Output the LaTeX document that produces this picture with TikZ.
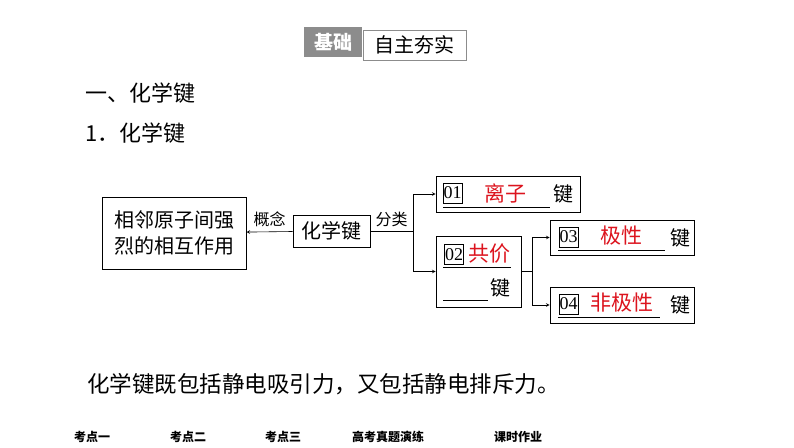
\documentclass[tikz,border=0pt]{standalone}
\usepackage{fontspec}
\setmainfont{Noto Sans CJK SC}
\newfontfamily\numfont{Liberation Serif}
\usepackage{tikz}

\definecolor{keyred}{RGB}{220,20,30}
\definecolor{tabgray}{RGB}{140,140,140}

\tikzset{
  boxed/.style={draw=black, thick, inner sep=0pt},
  numbox/.style={draw=black, inner sep=0pt, minimum width=19pt, minimum height=20pt,
    font=\numfont\fontsize{18}{18}\selectfont},
  answer/.style={text=keyred, font=\fontsize{21}{24}\selectfont},
  plain/.style={font=\fontsize{20}{24}\selectfont},
  label/.style={font=\fontsize{16}{18}\selectfont},
  tab/.style={font=\bfseries\fontsize{12}{14}\selectfont}
}

\begin{document}
\begin{tikzpicture}[x=1pt, y=-1pt, >=stealth]
        \useasboundingbox (0,0) rectangle (794,447);

        % header
        \node[fill=tabgray, minimum width=58pt, minimum height=30pt, inner sep=0pt,
          text=white, font=\bfseries\fontsize{19}{20}\selectfont] (jichu) at (333,42) {基础};
        \node[draw=tabgray, minimum width=103pt, minimum height=30pt, inner sep=0pt,
          font=\fontsize{20}{22}\selectfont] (zizhu) at (414.5,45) {自主夯实};

        \node[anchor=west, inner sep=0pt, font=\fontsize{22}{24}\selectfont] (title) at (85,93) {一、化学键};
        \node[anchor=west, inner sep=0pt, font=\fontsize{22}{24}\selectfont] (sub) at (85,133) {1．化学键};

        % boxes
        \node[boxed, minimum width=144pt, minimum height=72pt, plain, align=center] (def) at (174,233)
          {相邻原子间强\\[2pt]烈的相互作用};
        \node[boxed, minimum width=77pt, minimum height=32pt, plain] (bond) at (331.5,231) {化学键};
        \node[boxed, minimum width=144pt, minimum height=36pt] (ionic) at (508,194) {};
        \node[boxed, minimum width=85pt, minimum height=71pt] (cov) at (478.5,271.5) {};
        \node[boxed, minimum width=144pt, minimum height=35pt] (polar) at (622,237.5) {};
        \node[boxed, minimum width=144pt, minimum height=36pt] (nonpolar) at (622,305) {};

        % box contents
        \node[numbox] (n01) at (452.5,193) {01};
        \node[answer] (a01) at (505,193) {离子};
        \node[plain] (k01) at (563,194) {键};
        \draw (443,207.5) -- (550,207.5);

        \node[numbox] (n02) at (454,254.5) {02};
        \node[answer, inner sep=0pt] (a02) at (489,254) {共价};
        \draw (443,267.5) -- (511,267.5);
        \node[plain] (k02) at (500,288) {键};
        \draw (443,300) -- (488,300);

        \node[numbox] (n03) at (568.5,237) {03};
        \node[answer] (a03) at (621,236) {极性};
        \node[plain] (k03) at (680,238) {键};
        \draw (558,250.5) -- (665,250.5);

        \node[numbox] (n04) at (568.5,304) {04};
        \node[answer] (a04) at (622,303) {非极性};
        \node[plain] (k04) at (680,305) {键};
        \draw (558,317.5) -- (660,317.5);

        % connectors
        \coordinate (split1) at (413,231);
        \coordinate (split2) at (532,271.5);

        \path [->, semithick](bond) edge node[above, label, yshift=1pt] {概念} (def);
        \path [-, semithick](bond) edge node[above, label, yshift=1pt] {分类} (split1);
        \draw [->, semithick] (split1) |- (ionic);
        \draw [->, semithick] (split1) |- (cov);
        \path [-, semithick](cov) edge (split2);
        \draw [->, semithick] (split2) |- (polar);
        \draw [->, semithick] (split2) |- (nonpolar);

        \node[anchor=west, inner sep=0pt, font=\fontsize{22.5}{24}\selectfont] (note) at (87,384)
          {化学键既包括静电吸引力，又包括静电排斥力。};

        % footer tabs
        \node[tab] (t1) at (92,437) {考点一};
        \node[tab] (t2) at (188,437) {考点二};
        \node[tab] (t3) at (283,437) {考点三};
        \node[tab] (t4) at (388,437) {高考真题演练};
        \node[tab] (t5) at (518,437) {课时作业};
    \end{tikzpicture}
\end{document}
